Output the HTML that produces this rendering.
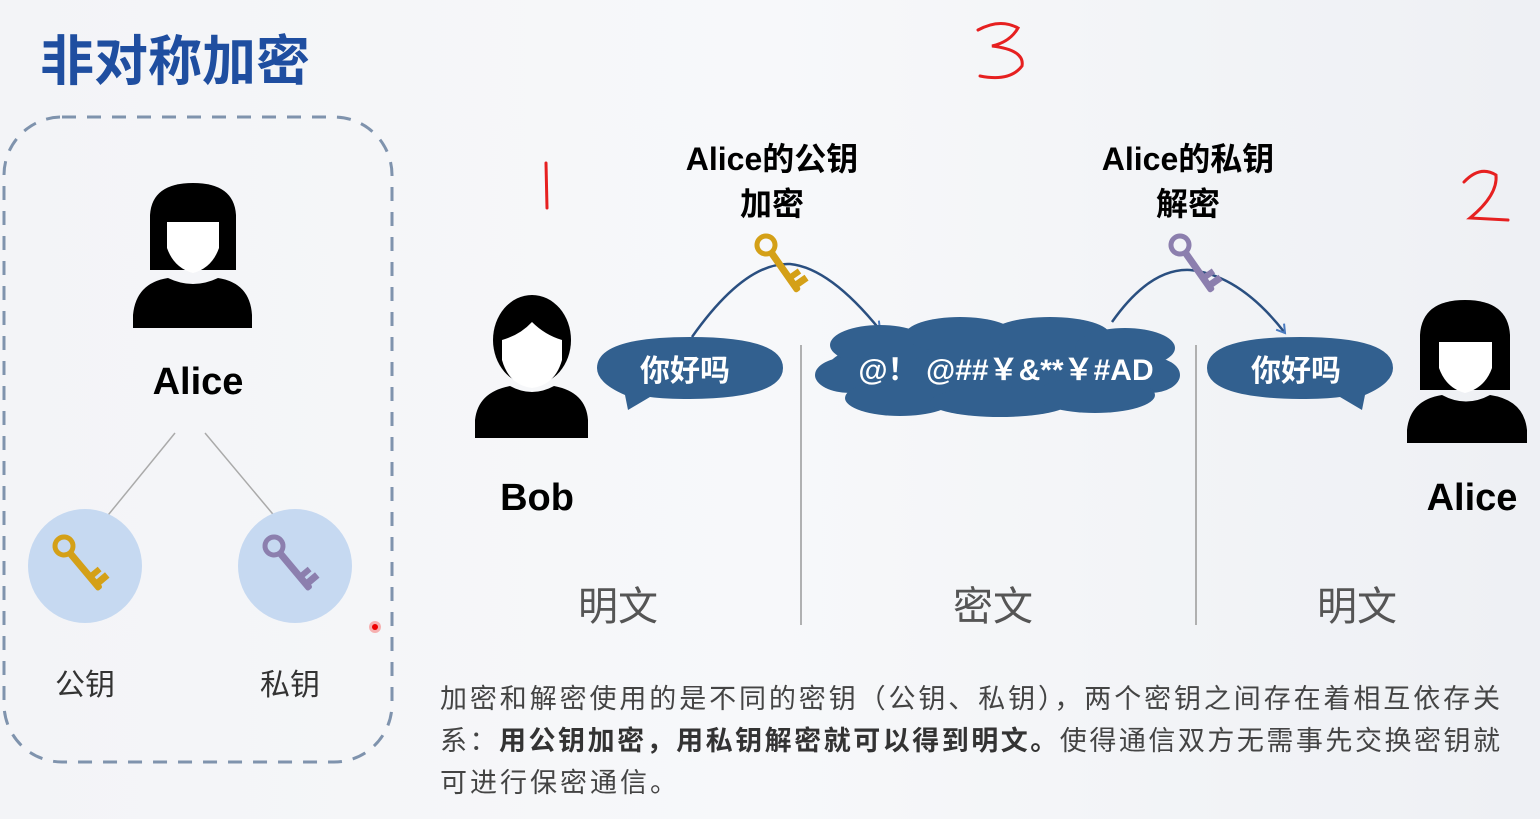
<!DOCTYPE html>
<html><head><meta charset="utf-8"><style>
html,body{margin:0;padding:0;}
body{width:1540px;height:819px;overflow:hidden;background:linear-gradient(90deg,#f3f4f7,#f7f8fa 50%,#eef0f4);}
svg{display:block;font-family:"Liberation Sans","Noto Sans CJK SC",sans-serif;}
</style></head><body>
<svg width="1540" height="819" viewBox="0 0 1540 819">
<defs>
<g id="key">
  <circle cx="0" cy="0" r="9" fill="none" stroke-width="5"/>
  <rect x="-3" y="8" width="6" height="48" rx="2"/>
  <rect x="3" y="38" width="9" height="5"/>
  <rect x="3" y="47" width="11" height="6"/>
</g>
<marker id="ar" markerWidth="12" markerHeight="12" refX="9" refY="6" orient="auto" markerUnits="userSpaceOnUse">
  <path d="M1,1 L9,6 L1,11" fill="none" stroke="#4a7bc0" stroke-width="2"/>
</marker>
</defs>

<text x="40" y="80" font-size="54" font-weight="bold" fill="#1f4ea0">非对称加密</text>

<rect x="4" y="117" width="388" height="645" rx="58" fill="none" stroke="#7f93ad" stroke-width="3" stroke-dasharray="14 11"/>

<g fill="#000">
  <path d="M150,270 L150,215 Q152,183 193,183 Q234,183 236,215 L236,270 Z"/>
  <path d="M133,328 L133,315 Q136,283 168,278 Q193,290 218,278 Q250,283 252,315 L252,328 Z"/>
</g>
<path d="M167,222 L219,222 L219,248 Q212,268 193,273 Q174,268 167,248 Z" fill="#fff"/>
<text x="198" y="394" font-size="38" font-weight="bold" text-anchor="middle">Alice</text>
<line x1="175" y1="433" x2="100" y2="525" stroke="#aaa" stroke-width="1.5"/>
<line x1="205" y1="433" x2="282" y2="525" stroke="#aaa" stroke-width="1.5"/>
<circle cx="85" cy="566" r="57" fill="#c6d9f1"/>
<circle cx="295" cy="566" r="57" fill="#c6d9f1"/>
<g transform="translate(64,546) rotate(-40)" fill="#d4a017" stroke="#d4a017"><use href="#key"/></g>
<g transform="translate(274,546) rotate(-40)" fill="#8c7fae" stroke="#8c7fae"><use href="#key"/></g>
<text x="85" y="695" font-size="30" fill="#333" text-anchor="middle">公钥</text>
<text x="290" y="695" font-size="30" fill="#333" text-anchor="middle">私钥</text>
<circle cx="375" cy="627" r="6" fill="#f6b0b0"/><circle cx="375" cy="627" r="3" fill="#e00"/>

<g fill="#000">
  <path d="M475,438 L475,420 Q478,392 510,386 Q532,398 554,386 Q586,392 588,420 L588,438 Z"/>
  <ellipse cx="532" cy="340" rx="39" ry="45"/>
</g>
<path d="M502,340 Q520,335 532,322 Q545,335 562,340 L562,360 Q555,385 532,388 Q509,385 502,360 Z" fill="#fff"/>
<text x="537" y="510" font-size="38" font-weight="bold" text-anchor="middle">Bob</text>

<g fill="#000">
  <path d="M1420,390 L1420,335 Q1422,300 1465,300 Q1508,300 1510,335 L1510,390 Z"/>
  <path d="M1407,443 L1407,430 Q1410,400 1442,395 Q1466,408 1490,395 Q1524,400 1527,430 L1527,443 Z"/>
</g>
<path d="M1439,342 L1492,342 L1492,368 Q1485,388 1465,393 Q1446,388 1439,368 Z" fill="#fff"/>
<text x="1472" y="510" font-size="38" font-weight="bold" text-anchor="middle">Alice</text>

<text x="772" y="170" font-size="32" font-weight="bold" text-anchor="middle">Alice的公钥</text>
<text x="772" y="215" font-size="32" font-weight="bold" text-anchor="middle">加密</text>
<text x="1188" y="170" font-size="32" font-weight="bold" text-anchor="middle">Alice的私钥</text>
<text x="1188" y="215" font-size="32" font-weight="bold" text-anchor="middle">解密</text>

<path d="M692,337 Q745,262 790,264 Q830,268 880,330" fill="none" stroke="#2a4f80" stroke-width="2.5" marker-end="url(#ar)"/>
<path d="M1112,322 Q1150,268 1190,270 Q1240,275 1285,333" fill="none" stroke="#2a4f80" stroke-width="2.5" marker-end="url(#ar)"/>
<g transform="translate(766,245) rotate(-35)" fill="#d4a017" stroke="#d4a017"><use href="#key"/></g>
<g transform="translate(1180,245) rotate(-35)" fill="#8c7fae" stroke="#8c7fae"><use href="#key"/></g>

<path d="M625,395 Q597,383 597,368 Q597,337 690,337 Q783,337 783,368 Q783,398 690,399 Q665,399 650,397 L628,410 Z" fill="#32608f"/>
<text x="685" y="381" font-size="30" font-weight="bold" fill="#fff" text-anchor="middle">你好吗</text>
<path d="M1365,395 Q1393,383 1393,368 Q1393,337 1300,337 Q1207,337 1207,368 Q1207,398 1300,399 Q1325,399 1340,397 L1362,410 Z" fill="#32608f"/>
<text x="1296" y="381" font-size="30" font-weight="bold" fill="#fff" text-anchor="middle">你好吗</text>
<g fill="#32608f">
  <ellipse cx="998" cy="368" rx="170" ry="38"/>
  <ellipse cx="880" cy="345" rx="50" ry="20"/>
  <ellipse cx="960" cy="335" rx="55" ry="18"/>
  <ellipse cx="1050" cy="335" rx="60" ry="18"/>
  <ellipse cx="1125" cy="348" rx="50" ry="20"/>
  <ellipse cx="850" cy="375" rx="35" ry="18"/>
  <ellipse cx="1150" cy="375" rx="30" ry="18"/>
  <ellipse cx="900" cy="398" rx="55" ry="18"/>
  <ellipse cx="1000" cy="402" rx="70" ry="15"/>
  <ellipse cx="1095" cy="395" rx="60" ry="18"/>
</g>
<text x="1006" y="380" font-size="30" font-weight="bold" fill="#fff" text-anchor="middle">@！ @##￥&amp;**￥#AD</text>

<line x1="801" y1="345" x2="801" y2="625" stroke="#999" stroke-width="1.5"/>
<line x1="1196" y1="345" x2="1196" y2="625" stroke="#999" stroke-width="1.5"/>
<text x="618" y="620" font-size="40" fill="#555" text-anchor="middle">明文</text>
<text x="993" y="620" font-size="40" fill="#555" text-anchor="middle">密文</text>
<text x="1357" y="620" font-size="40" fill="#555" text-anchor="middle">明文</text>

<text x="440" y="708" font-size="27" fill="#444" textLength="1060" lengthAdjust="spacing">加密和解密使用的是不同的密钥（公钥、私钥），两个密钥之间存在着相互依存关</text>
<text x="440" y="750" font-size="27" fill="#444" textLength="1060" lengthAdjust="spacing">系：<tspan font-weight="bold" fill="#333">用公钥加密，用私钥解密就可以得到明文。</tspan>使得通信双方无需事先交换密钥就</text>
<text x="440" y="792" font-size="27" fill="#444" letter-spacing="3">可进行保密通信。</text>

<g fill="none" stroke="#e62020" stroke-width="3" stroke-linecap="round">
  <path d="M978,30 Q1000,18 1018,28 Q1010,42 992,46 Q1025,50 1022,66 Q1010,82 980,76"/>
  <path d="M546,163 L547,208"/>
  <path d="M1464,182 Q1480,165 1496,175 Q1498,195 1470,218 L1508,220"/>
</g>
</svg>
</body></html>
